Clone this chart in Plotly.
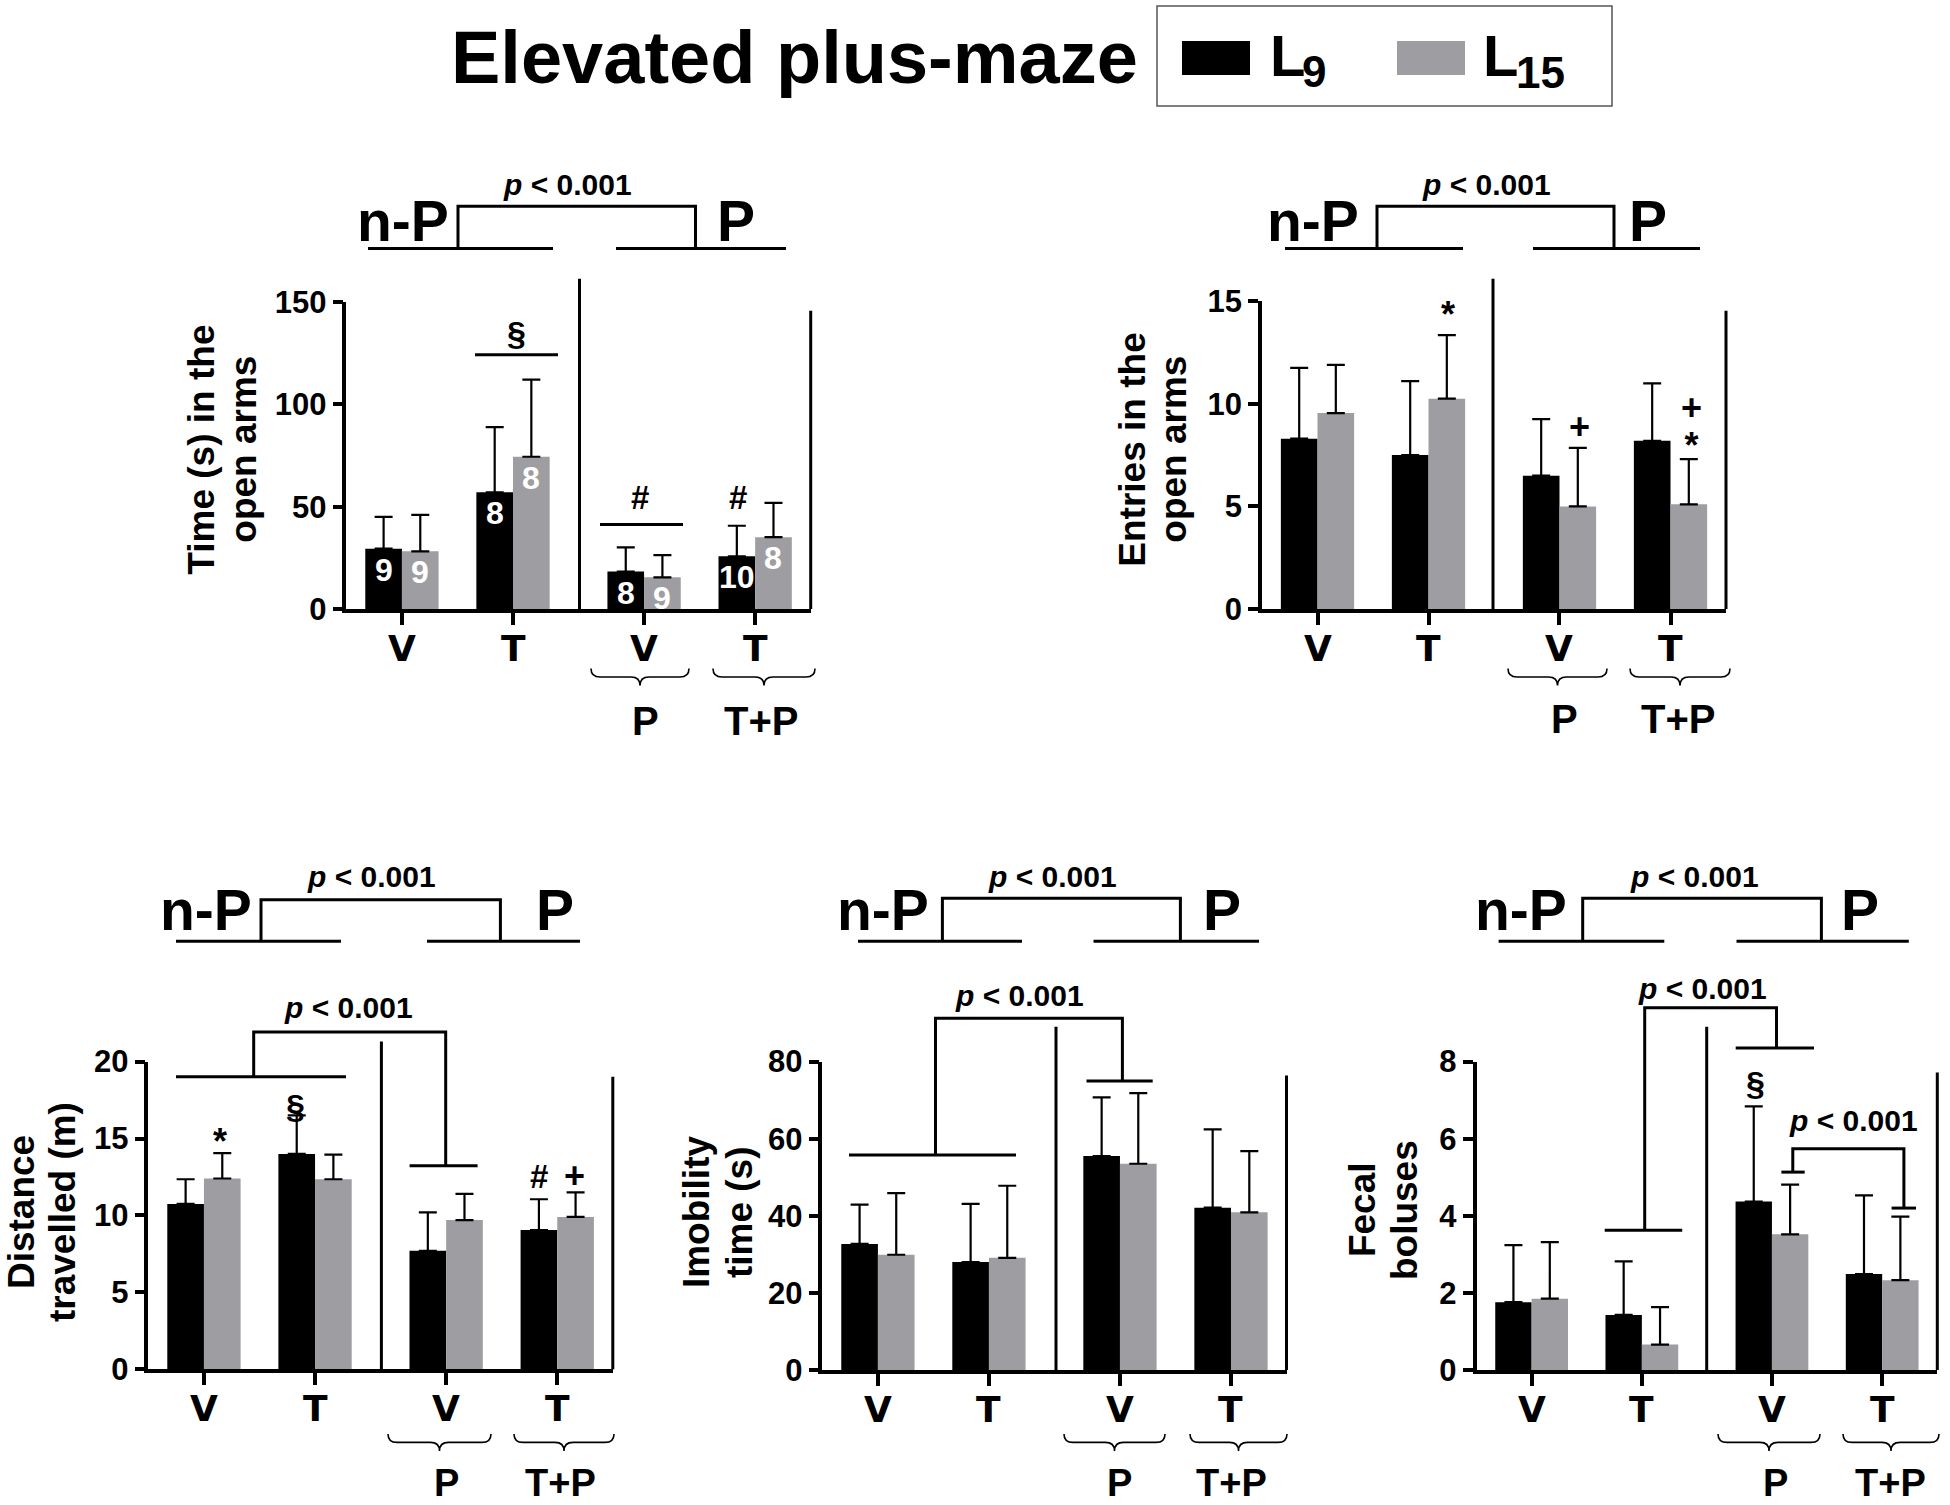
import plotly.graph_objects as go

W, H = 1950, 1505
BLACK = '#000000'
GREY = '#9e9ea2'
SANS = 'Liberation Sans, Arial, sans-serif'
WIDE = 'DejaVu Sans, Verdana, sans-serif'

# ---- data ----
GROUPS = ['V', 'T', 'V', 'T']
GROUP_POS = [0, 1, 2.18, 3.18]

time_l9 = [29.5, 57.0, 18.3, 25.8]
time_l9_err = [15.5, 31.9, 11.8, 14.9]
time_l15 = [28.2, 74.4, 15.5, 35.1]
time_l15_err = [17.8, 37.7, 10.8, 16.8]
time_n_l9 = ['9', '8', '8', '10']
time_n_l15 = ['9', '8', '9', '8']

entries_l9 = [8.3, 7.5, 6.5, 8.2]
entries_l9_err = [3.45, 3.6, 2.75, 2.8]
entries_l15 = [9.55, 10.25, 5.0, 5.1]
entries_l15_err = [2.35, 3.1, 2.85, 2.2]

dist_l9 = [10.75, 14.0, 7.7, 9.05]
dist_l9_err = [1.6, 2.5, 2.5, 2.0]
dist_l15 = [12.4, 12.35, 9.7, 9.9]
dist_l15_err = [1.65, 1.6, 1.7, 1.6]

immob_l9 = [32.7, 28.0, 55.5, 42.1]
immob_l9_err = [10.2, 15.1, 15.2, 20.3]
immob_l15 = [29.9, 29.1, 53.5, 40.9]
immob_l15_err = [16.0, 18.7, 18.3, 15.9]

fecal_l9 = [1.76, 1.43, 4.37, 2.49]
fecal_l9_err = [1.48, 1.39, 2.47, 2.04]
fecal_l15 = [1.85, 0.66, 3.52, 2.33]
fecal_l15_err = [1.47, 0.97, 1.29, 1.65]

# pixel boxes of each panel: axis left/right, bottom/top, separator, right line top
panels = [
    dict(l9=time_l9, l9e=time_l9_err, l15=time_l15, l15e=time_l15_err, ymax=150, ticks=[0, 50, 100, 150],
         title=[('Time (s) in the', 202), ('open arms', 244)], ty=449, xl=648,
         box=(346.4, 810.7, 608.5, 301.2), sep=(579.5, 278), rtop=310),
    dict(l9=entries_l9, l9e=entries_l9_err, l15=entries_l15, l15e=entries_l15_err, ymax=15, ticks=[0, 5, 10, 15],
         title=[('Entries in the', 1133), ('open arms', 1174)], ty=449, xl=648,
         box=(1262, 1726, 608.5, 300.4), sep=(1493, 278), rtop=310),
    dict(l9=dist_l9, l9e=dist_l9_err, l15=dist_l15, l15e=dist_l15_err, ymax=20, ticks=[0, 5, 10, 15, 20],
         title=[('Distance', 21), ('travelled (m)', 62)], ty=1212, xl=1409,
         box=(148.4, 612.8, 1369.3, 1061.4), sep=(381.4, 1041.4), rtop=1076.6),
    dict(l9=immob_l9, l9e=immob_l9_err, l15=immob_l15, l15e=immob_l15_err, ymax=80, ticks=[0, 20, 40, 60, 80],
         title=[('Imobility', 696), ('time (s)', 739)], ty=1212, xl=1410,
         box=(822.4, 1286.5, 1370.1, 1061.4), sep=(1056, 1026.6), rtop=1075.4),
    dict(l9=fecal_l9, l9e=fecal_l9_err, l15=fecal_l15, l15e=fecal_l15_err, ymax=8, ticks=[0, 2, 4, 6, 8],
         title=[('Fecal', 1362), ('boluses', 1404)], ty=1210, xl=1410,
         box=(1476.5, 1937.3, 1370.1, 1061.4), sep=(1706.7, 1026.6), rtop=1072.4),
]

BW = 0.33
# the photographed page comes out slightly squeezed vertically; undo it
OB, OS = 16.0, 0.9775


def X(p):
    return p / W


def Y(p):
    return 1 - (p - OB) / OS / H


shapes, notes = [], []


def line(x0, y0, x1, y1, w=3):
    shapes.append(dict(type='line', xref='paper', yref='paper', x0=X(x0), y0=Y(y0), x1=X(x1), y1=Y(y1),
                       line=dict(color='black', width=w)))


def poly(pts, w=3):
    d = 'M ' + ' L '.join(f'{X(a):.5f},{Y(b):.5f}' for a, b in pts)
    shapes.append(dict(type='path', xref='paper', yref='paper', path=d, line=dict(color='black', width=w)))


def brace(x0, x1, y0, y1, r=9):
    ym, xm = (y0 + y1) / 2, (x0 + x1) / 2
    P = lambda a, b: f'{X(a):.5f},{Y(b):.5f}'
    d = (f'M {P(x0, y0)} Q {P(x0, ym)} {P(x0 + r, ym)} L {P(xm - r, ym)} Q {P(xm, ym)} {P(xm, y1)} '
         f'Q {P(xm, ym)} {P(xm + r, ym)} L {P(x1 - r, ym)} Q {P(x1, ym)} {P(x1, y0)}')
    shapes.append(dict(type='path', xref='paper', yref='paper', path=d, line=dict(color='black', width=1.6)))


def text(x, y, s, size, family=SANS, angle=0, color='black', xanchor='center', xref='paper'):
    notes.append(dict(xref=xref, yref='paper', x=X(x) if xref == 'paper' else x, y=Y(y),
                      text='<b>' + s + '</b>', showarrow=False,
                      xanchor=xanchor, yanchor='middle', textangle=angle,
                      font=dict(family=family, size=size, color=color, weight='bold')))


PVAL = '<i>p</i> &lt; 0.001'


def top_bracket(nP, P, left, right, yl, xb, ytop, ptxt):
    text(nP[0], nP[1], 'n-P', 57)
    text(P[0], P[1], 'P', 57)
    line(left[0], yl, left[1], yl)
    line(right[0], yl, right[1], yl)
    poly([(xb[0], yl), (xb[0], ytop), (xb[1], ytop), (xb[1], yl)])
    text(ptxt[0], ptxt[1], PVAL, 30)


fig = go.Figure()
layout = {}
for i, pn in enumerate(panels):
    ax = '' if i == 0 else str(i + 1)
    x0, x1, yb, yt = pn['box']
    for vals, errs, col, off in ((pn['l9'], pn['l9e'], BLACK, -BW), (pn['l15'], pn['l15e'], GREY, 0)):
        fig.add_trace(go.Bar(x=GROUP_POS, y=vals, width=BW, offset=off,
                             marker=dict(color=col, line=dict(width=0)),
                             error_y=dict(type='data', symmetric=False, array=errs, arrayminus=[0] * len(errs),
                                          color='black', thickness=2.2, width=9),
                             xaxis='x' + ax, yaxis='y' + ax, showlegend=False))
    layout['xaxis' + ax] = dict(domain=[X(x0), X(x1)], range=[-0.5, 3.68], anchor='y' + ax,
                                tickvals=GROUP_POS, ticks='outside', ticklen=12, tickwidth=3.5,
                                tickcolor='black', showline=True, linewidth=3.5, linecolor='black',
                                showgrid=False, zeroline=False, showticklabels=False)
    layout['yaxis' + ax] = dict(domain=[Y(yb), Y(yt)], range=[0, pn['ymax']], anchor='x' + ax,
                                tickvals=pn['ticks'], ticks='outside', ticklen=10, tickwidth=3.5,
                                tickcolor='black', showline=True, linewidth=3.5, linecolor='black',
                                showgrid=False, zeroline=False,
                                tickfont=dict(family=SANS, size=31, color='black', weight='bold'))
    for gx, gl in zip(GROUP_POS, GROUPS):
        text(gx, pn['xl'], gl, 36, family=WIDE, xref='x' + ax)
    line(pn['sep'][0], yb, pn['sep'][0], pn['sep'][1])
    line(x1, yb, x1, pn['rtop'])
    for s, tx in pn['title']:
        text(tx, pn['ty'], s, 37, angle=-90)

# group sizes written inside the time bars
for k in range(4):
    for vals, labels, dx in ((time_l9, time_n_l9, -BW / 2), (time_l15, time_n_l15, BW / 2)):
        notes.append(dict(xref='x', yref='y', x=GROUP_POS[k] + dx, y=vals[k], text='<b>' + labels[k] + '</b>',
                          showarrow=False, xanchor='center', yanchor='top', yshift=-1,
                          font=dict(family=SANS, size=32, color='white', weight='bold')))

# ---- panel 1 ----
top_bracket((403, 220), (736, 220), (368, 553), (616, 786), 247.6, (458, 695.5), 205.5, (567, 184))
text(516, 332, '§', 34)
line(475, 354, 558, 354)
text(640, 497, '#', 33)
line(600, 524, 683, 524)
text(738, 497, '#', 33)
brace(591, 689, 668, 685)
brace(713, 815, 668, 685)
text(645, 721, 'P', 40)
text(761, 721, 'T+P', 40)

# ---- panel 2 ----
top_bracket((1313, 220), (1648, 220), (1285, 1463), (1533, 1700), 247.6, (1377, 1614), 205.5, (1486, 184))
text(1448, 314, '*', 36)
text(1579, 426, '+', 36)
# stacked "+" over "*": one text, glyphs drawn larger than the line step
big = '<span style="font-size:36px">%s</span>'
text(1691, 426, big % '+' + '<br>' + big % '*', 29)
brace(1508, 1607, 668, 685)
brace(1630, 1730, 668, 685)
text(1564, 719, 'P', 40)
text(1678, 719, 'T+P', 40)

# ---- panel 3 ----
top_bracket((206, 910), (555, 910), (176, 341), (427, 580), 941, (261, 500.4), 899.4, (371, 876))
line(176, 1076.6, 346, 1076.6)
poly([(253.7, 1076.6), (253.7, 1031.7), (445.7, 1031.7), (445.7, 1165.7)])
line(409.6, 1165.7, 477.6, 1165.7)
text(348, 1007.5, PVAL, 30)
text(220, 1141, '*', 36)
text(295, 1106, '§', 34)
text(539, 1176, '#', 33)
text(574, 1175, '+', 36)
brace(388, 491, 1434, 1451)
brace(514, 614, 1434, 1451)
text(446, 1483, 'P', 38)
text(560, 1483, 'T+P', 38)

# ---- panel 4 ----
top_bracket((883, 910), (1222, 910), (858, 1022), (1093.5, 1259), 941, (942.4, 1180.4), 898, (1052, 876))
line(849, 1155, 1016, 1155)
poly([(935.5, 1155), (935.5, 1018.1), (1122.4, 1018.1), (1122.4, 1080.9)])
line(1086.5, 1080.9, 1152.7, 1080.9)
text(1019, 995, PVAL, 30)
brace(1064, 1165, 1434, 1451)
brace(1190, 1287, 1434, 1451)
text(1119, 1483, 'P', 38)
text(1231, 1483, 'T+P', 38)

# ---- panel 5 ----
top_bracket((1521, 910), (1860, 910), (1498.6, 1664.3), (1736.5, 1908.8), 941, (1582.7, 1821.4), 898, (1694, 876))
line(1604.7, 1230.2, 1682.2, 1230.2)
poly([(1644.7, 1230.2), (1644.7, 1007.5), (1776.5, 1007.5), (1776.5, 1047.8)])
line(1735.7, 1047.8, 1814, 1047.8)
text(1702, 988, PVAL, 30)
poly([(1792.8, 1172), (1792.8, 1148.7), (1903.9, 1148.7), (1903.9, 1208)])
line(1781.4, 1172, 1804.7, 1172)
line(1891.6, 1208, 1916, 1208)
text(1853, 1120, PVAL, 30)
text(1755, 1083, '§', 34)
brace(1718, 1820, 1434, 1451)
brace(1843, 1939, 1434, 1451)
text(1775, 1483, 'P', 38)
text(1890, 1483, 'T+P', 38)

# ---- title and legend ----
text(794, 57, 'Elevated plus-maze', 74)
shapes.append(dict(type='rect', xref='paper', yref='paper', x0=X(1157), y0=Y(5), x1=X(1612), y1=Y(105),
                   line=dict(color='#555555', width=1.5)))
shapes.append(dict(type='rect', xref='paper', yref='paper', x0=X(1182), y0=Y(40), x1=X(1250), y1=Y(74),
                   fillcolor=BLACK, line=dict(width=0)))
shapes.append(dict(type='rect', xref='paper', yref='paper', x0=X(1397), y0=Y(40), x1=X(1465), y1=Y(74),
                   fillcolor=GREY, line=dict(width=0)))
text(1268, 55, 'L', 58, xanchor='left')
text(1300, 71, '9', 44, xanchor='left')
text(1481, 55, 'L', 58, xanchor='left')
text(1514, 72, '15', 44, xanchor='left')

fig.update_layout(width=W, height=H, margin=dict(l=0, r=0, t=0, b=0), barmode='overlay', autosize=False,
                  plot_bgcolor='white', paper_bgcolor='white', showlegend=False,
                  shapes=shapes, annotations=notes, **layout)
fig.write_html("out.html", config={'displayModeBar': False, 'responsive': False},
               post_script="document.body.style.margin='0';document.body.style.padding='0';"
                           "document.body.style.lineHeight='0';document.body.style.fontSize='0';"
                           "document.documentElement.style.overflow='hidden';")
